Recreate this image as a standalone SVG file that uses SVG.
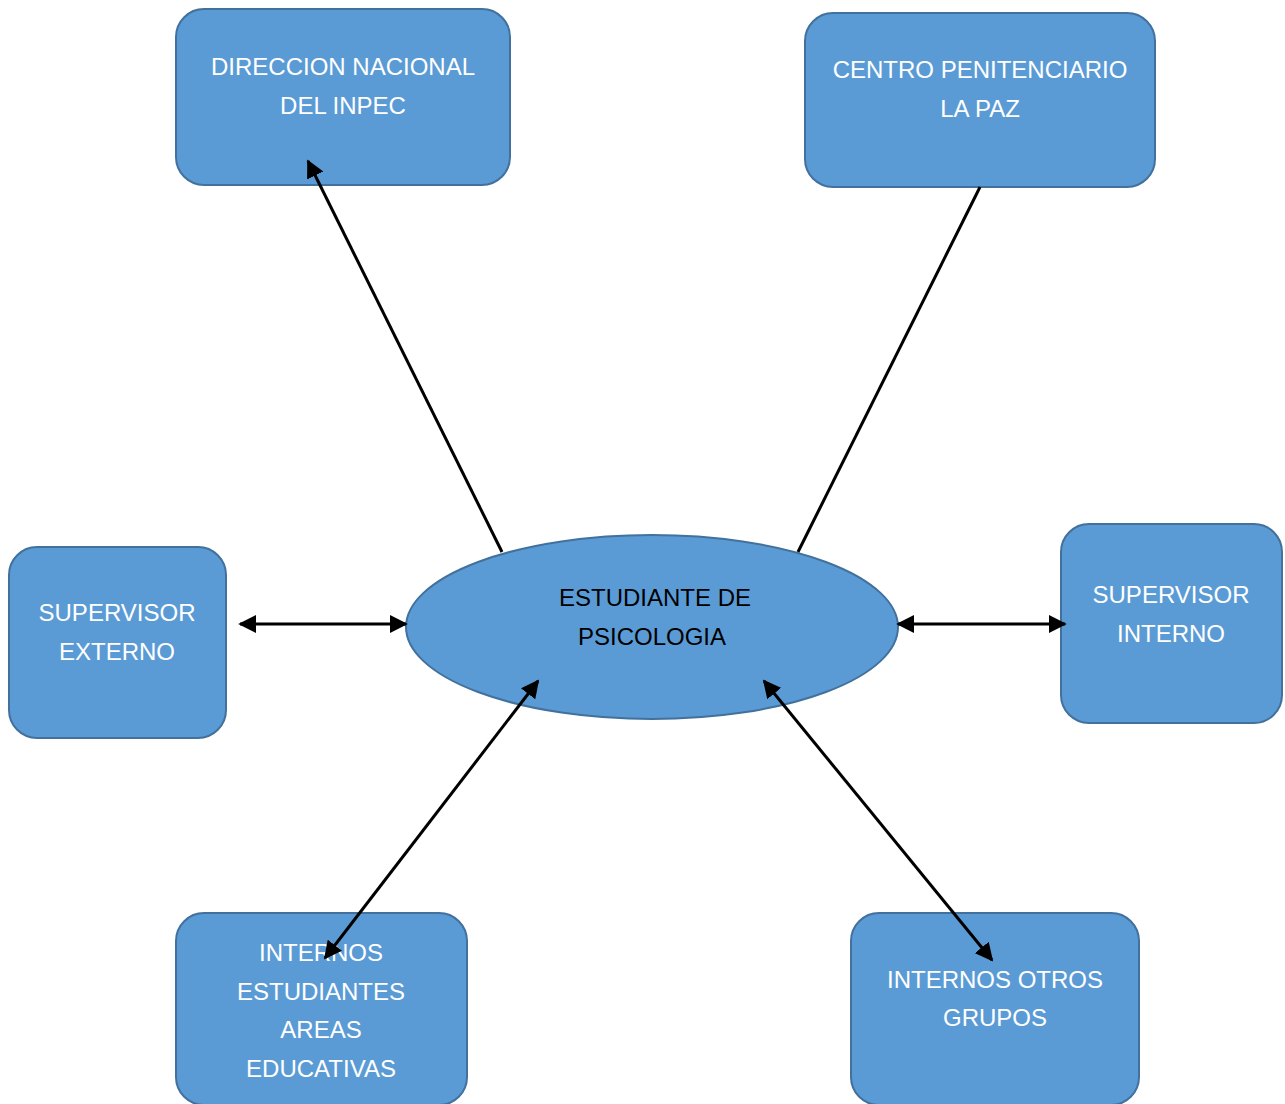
<svg xmlns="http://www.w3.org/2000/svg" width="1285" height="1104" viewBox="0 0 1285 1104">
<style>
.box{fill:#5B9BD5;stroke:#41719C;stroke-width:2}
.t{font-family:"Liberation Sans",Arial,sans-serif;font-size:24px;fill:#ffffff;text-anchor:middle}
.d{fill:#000000}
.c{stroke:#000;stroke-width:3;fill:none}
</style>
<defs>
<marker id="ah" viewBox="0 0 10 10" refX="9" refY="5" markerWidth="6" markerHeight="6" orient="auto-start-reverse" markerUnits="strokeWidth">
<path d="M0,0 L10,5 L0,10 z" fill="#000"/>
</marker>
</defs>
<rect width="1285" height="1104" fill="#fff"/>
<g id="n-direccion">
<rect class="box" x="176" y="9" width="334" height="176" rx="28"/>
<text class="t" x="343" y="75">DIRECCION NACIONAL</text>
<text class="t" x="343" y="114">DEL INPEC</text>
</g>
<g id="n-centro">
<rect class="box" x="805" y="13" width="350" height="174" rx="28"/>
<text class="t" x="980" y="78">CENTRO PENITENCIARIO</text>
<text class="t" x="980" y="117">LA PAZ</text>
</g>
<g id="n-sup-externo">
<rect class="box" x="9" y="547" width="217" height="191" rx="28"/>
<text class="t" x="117" y="621">SUPERVISOR</text>
<text class="t" x="117" y="660">EXTERNO</text>
</g>
<g id="n-sup-interno">
<rect class="box" x="1061" y="524" width="221" height="199" rx="28"/>
<text class="t" x="1171" y="603">SUPERVISOR</text>
<text class="t" x="1171" y="642">INTERNO</text>
</g>
<g id="n-internos-est">
<rect class="box" x="176" y="913" width="291" height="192" rx="28"/>
<text class="t" x="321" y="961">INTERNOS</text>
<text class="t" x="321" y="1000">ESTUDIANTES</text>
<text class="t" x="321" y="1038">AREAS</text>
<text class="t" x="321" y="1077">EDUCATIVAS</text>
</g>
<g id="n-internos-otros">
<rect class="box" x="851" y="913" width="288" height="192" rx="28"/>
<text class="t" x="995" y="988">INTERNOS OTROS</text>
<text class="t" x="995" y="1026">GRUPOS</text>
</g>
<g id="n-estudiante">
<ellipse class="box" cx="652" cy="627" rx="246" ry="92"/>
<text class="t d" x="655" y="606">ESTUDIANTE DE</text>
<text class="t d" x="652" y="645">PSICOLOGIA</text>
</g>
<g id="connectors">
<line class="c" x1="502" y1="552" x2="308" y2="161" marker-end="url(#ah)"/>
<line class="c" x1="798" y1="552" x2="980" y2="187"/>
<line class="c" x1="240" y1="624" x2="406" y2="624" marker-start="url(#ah)" marker-end="url(#ah)"/>
<line class="c" x1="898" y1="624" x2="1065" y2="624" marker-start="url(#ah)" marker-end="url(#ah)"/>
<line class="c" x1="538" y1="681" x2="325" y2="958" marker-start="url(#ah)" marker-end="url(#ah)"/>
<line class="c" x1="764" y1="681" x2="992" y2="960" marker-start="url(#ah)" marker-end="url(#ah)"/>
</g>
</svg>
